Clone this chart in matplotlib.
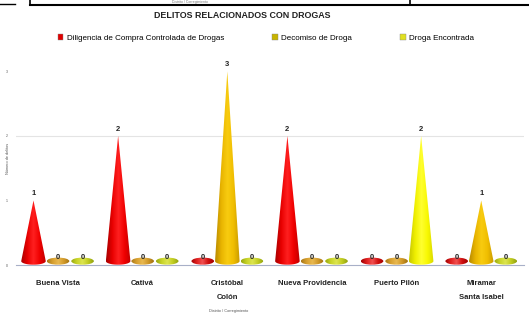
import numpy as np
import matplotlib.pyplot as plt
from matplotlib.colors import LinearSegmentedColormap
from matplotlib.lines import Line2D
from matplotlib.patches import Ellipse, Patch, Polygon

districts = [
  "Buena Vista",
  "Cativá",
  "Cristóbal\nColón",
  "Nueva Providencia",
  "Puerto Pilón",
  "Miramar\nSanta Isabel",
]
series_names = [
  "Diligencia de Compra Controlada de Drogas",
  "Decomiso de Droga",
  "Droga Encontrada",
]
diligencia = [1, 2, 0, 2, 0, 0]
decomiso = [0, 0, 3, 0, 0, 1]
encontrada = [0, 0, 0, 0, 2, 0]
y_ticks = [0, 1, 2, 3]

# shading stops per series: cone body, flat (zero) disc
cone_stops = [
  ["#a80000", "#e80000", "#ff2020", "#f00000", "#c00000"],
  ["#b88a00", "#e8b400", "#f8cc10", "#f0be00", "#c89a00"],
  ["#c8c800", "#f0f000", "#ffff30", "#f8f800", "#d8d800"],
]
disc_stops = [
  ["#a00000", "#e02020", "#f05050", "#d01010", "#a00000"],
  ["#a87818", "#d8a030", "#e8b850", "#d09828", "#a07010"],
  ["#98a810", "#c8d428", "#dce450", "#c0cc20", "#90a010"],
]
legend_colors = ["#e00000", "#c8b400", "#e0e020"]

plt.rcParams["font.family"] = ["Liberation Sans", "DejaVu Sans"]

fig = plt.figure(figsize=(5.29, 3.17), dpi=100)
ax = fig.add_axes([0.0297, 0.164, 0.96, 0.672])

width = 0.29
offset = 0.29
disc_h = 0.11
disc_y = 0.06


def shade(patch, x0, x1, y0, y1, stops, z):
  ax.add_patch(patch)
  cmap = LinearSegmentedColormap.from_list("s", stops)
  grad = np.linspace(0, 1, 64).reshape(1, -1)
  im = ax.imshow(grad, cmap=cmap, extent=[x0, x1, y0, y1], aspect="auto",
                 origin="lower", interpolation="bilinear", zorder=z)
  im.set_clip_path(patch)


all_series = [diligencia, decomiso, encontrada]
for s, values in enumerate(all_series):
  for i, v in enumerate(values):
    xc = i + (s - 1) * offset
    x0, x1 = xc - width / 2, xc + width / 2
    if v > 0:
      t = np.linspace(0, np.pi, 30)
      arc_x = xc + width / 2 * np.cos(t)
      arc_y = disc_y - disc_h / 2 * np.sin(t)
      pts = [(xc, v)] + list(zip(arc_x, arc_y))
      cone = Polygon(pts, closed=True, fc="none", ec="none")
      shade(cone, x0, x1, disc_y - disc_h / 2, v, cone_stops[s], 3)
      ax.text(xc, v + 0.05, str(v), ha="center", va="bottom",
              fontsize=5.5, fontweight="bold", color="#222222", zorder=5)
    else:
      dw = width * 0.92
      disc = Ellipse((xc, disc_y), dw, disc_h, fc="none", ec="none")
      shade(disc, xc - dw / 2, xc + dw / 2, disc_y - disc_h / 2,
            disc_y + disc_h / 2, disc_stops[s], 3)
      ax.text(xc, disc_y, str(v), ha="center", va="bottom",
              fontsize=5.5, fontweight="bold", color="#222222", zorder=5)

ax.axhline(2, color="#e4e4e4", lw=0.8, zorder=0)
ax.set_xlim(-0.5, len(districts) - 0.5)
ax.set_ylim(0, 3.3)

ax.set_xticks(range(len(districts)))
ax.set_xticklabels(districts, fontsize=5.5, fontweight="bold", linespacing=2.4,
                   color="#222222", va="top")
ax.set_yticks(y_ticks)
ax.tick_params(axis="x", length=0, pad=11)
ax.tick_params(axis="y", length=0, labelsize=2.5, pad=6, labelcolor="#555555")
for side in ["top", "right", "left"]:
  ax.spines[side].set_visible(False)
ax.spines["bottom"].set_color("#a8b0c8")
ax.spines["bottom"].set_linewidth(0.8)

fig.text(8 / 529, 0.5, "Número de delitos", rotation=90, fontsize=2.8,
         color="#555555", ha="center", va="center")
fig.text(229 / 529, 1 - 311 / 317, "Distrito / Corregimiento", fontsize=2.8,
         color="#555555", ha="center", va="center")

fig.suptitle("DELITOS RELACIONADOS CON DROGAS", x=242 / 529, y=1 - 15 / 317,
             fontsize=6.4, fontweight="bold", color="#222222", va="center")

handles = [Patch(fc=c, ec="#888888", lw=0.3) for c in legend_colors]
fig.legend(handles, series_names, loc="center", bbox_to_anchor=(266 / 529, 1 - 38 / 317),
           ncol=3, fontsize=5.8, frameon=False, handlelength=0.7, handleheight=0.7,
           handletextpad=0.4, columnspacing=6.0)

# table border above the chart
top = 1 - 5 / 317
fig.add_artist(Line2D([30 / 529, 1], [top, top], color="black", lw=1.5))
fig.add_artist(Line2D([0, 15 / 529], [1 - 4 / 317] * 2, color="black", lw=1.0))
fig.add_artist(Line2D([30 / 529] * 2, [top, 1], color="black", lw=1.2))
fig.add_artist(Line2D([410 / 529] * 2, [top, 1], color="black", lw=1.2))
fig.text(190 / 529, 1 - 2 / 317, "Distrito / Corregimiento", fontsize=2.5,
         color="#777777", ha="center", va="center")

fig.savefig("out.png", dpi=100)
